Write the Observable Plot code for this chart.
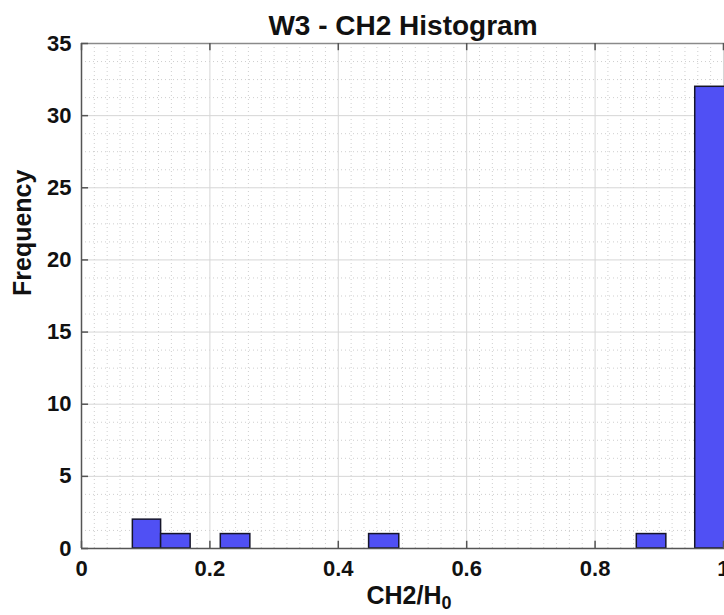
<!DOCTYPE html>
<html>
<head>
<meta charset="utf-8">
<script src="https://cdn.jsdelivr.net/npm/d3@7"></script>
<script src="https://cdn.jsdelivr.net/npm/@observablehq/plot@0.6"></script>
<style>
  html, body { margin: 0; padding: 0; background: #fff; }
  #chart svg { display: block; }
</style>
</head>
<body>
<div id="chart"></div>
<script>
// Histogram bins
const binLo = [0.0800, 0.1240, 0.2170, 0.4480, 0.8650, 0.9560];
const binHi = [0.1240, 0.1700, 0.2630, 0.4950, 0.9110, 1.0030];
const counts = [2, 1, 1, 1, 1, 32];

// Axis ticks and labels
const xTicks = [0, 0.2, 0.4, 0.6, 0.8, 1];
const xTickLabels = ["0", "0.2", "0.4", "0.6", "0.8", "1"];
const yTicks = [0, 5, 10, 15, 20, 25, 30, 35];
const titleText = "W3 - CH2 Histogram";
const xLabelText = "CH2/H0";
const yLabelText = "Frequency";

const bins = binLo.map((lo, i) => ({lo, hi: binHi[i], count: counts[i]}));

// minor grid positions (MATLAB style)
const xMinor = d3.range(0, 51).map(i => i * 0.02).filter(v => Math.abs(v / 0.2 - Math.round(v / 0.2)) > 1e-6);
const yMinor = d3.range(0, 29).map(i => i * 1.25).filter(v => Math.abs(v / 5 - Math.round(v / 5)) > 1e-6);

const font = "'Liberation Sans', Arial, Helvetica, sans-serif";

const chart = Plot.plot({
  width: 724,
  height: 615,
  marginLeft: 81,
  marginRight: 0,
  marginTop: 43,
  marginBottom: 67,
  style: {fontFamily: font, fontWeight: "bold", color: "#111", background: "#fff"},
  x: {domain: [0, 1.0016]},
  y: {domain: [0, 35]},
  marks: [
    // minor grid
    Plot.ruleX(xMinor, {stroke: "#a0a0a0", strokeOpacity: 0.5, strokeDasharray: "1,3", strokeWidth: 1}),
    Plot.ruleY(yMinor, {stroke: "#a0a0a0", strokeOpacity: 0.5, strokeDasharray: "1,3", strokeWidth: 1}),
    // major grid
    Plot.ruleX(xTicks, {stroke: "#d6d6d6", strokeWidth: 1}),
    Plot.ruleY(yTicks, {stroke: "#d6d6d6", strokeWidth: 1}),
    // bars
    Plot.rectY(bins, {x1: "lo", x2: "hi", y1: 0, y2: "count", fill: "#5050f4", stroke: "#15152a", strokeWidth: 1.5, clip: true}),
    // box
    Plot.ruleY([35], {stroke: "#8a8a8a", strokeWidth: 1.5}),
    Plot.ruleX([0], {stroke: "#555", strokeWidth: 1.5}),
    Plot.ruleY([0], {stroke: "#555", strokeWidth: 1.5}),
    // inward tick marks
    Plot.ruleX(xTicks, {y1: 0, y2: 0.5, stroke: "#555", strokeWidth: 1.5}),
    Plot.ruleX(xTicks, {y1: 34.5, y2: 35, stroke: "#555", strokeWidth: 1.5}),
    Plot.ruleY(yTicks, {x1: 0, x2: 0.011, stroke: "#555", strokeWidth: 1.5}),
    // tick labels
    Plot.axisX({ticks: xTicks, tickFormat: (d) => xTickLabels[xTicks.indexOf(d)], tickSize: 0, tickPadding: 12, fontSize: 22, fontWeight: "bold", label: null, fill: "#111"}),
    Plot.axisY({ticks: yTicks, tickFormat: d => String(d), tickSize: 0, tickPadding: 10, fontSize: 22, fontWeight: "bold", label: null, fill: "#111"}),
    // title and axis labels
    Plot.text([titleText], {frameAnchor: "top", dy: -17, lineAnchor: "middle", fontSize: 28, fontWeight: "bold", fill: "#111"}),
    Plot.text([xLabelText], {frameAnchor: "bottom", dy: 47, lineAnchor: "middle", fontSize: 25, fontWeight: "bold", fill: "#111"}),
    Plot.text([yLabelText], {frameAnchor: "left", dx: -59, rotate: -90, lineAnchor: "middle", fontSize: 25, fontWeight: "bold", fill: "#111"})
  ]
});

document.getElementById("chart").appendChild(chart);

// subscript for H0 in the x label
d3.select(chart).selectAll("text").each(function() {
  if (this.textContent === xLabelText) {
    const t = d3.select(this);
    t.text("CH2/H");
    t.append("tspan").attr("dy", "0.3em").attr("font-size", "18").text("0");
    t.attr("dx", "6");
  }
});
</script>
</body>
</html>
